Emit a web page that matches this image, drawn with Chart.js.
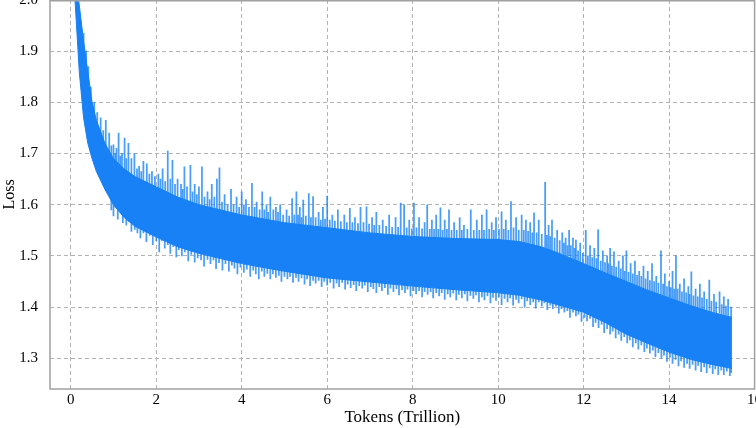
<!DOCTYPE html>
<html>
<head>
<meta charset="utf-8">
<script src="https://cdn.jsdelivr.net/npm/chart.js@4.4.1/dist/chart.umd.min.js"></script>
<style>
    html, body { margin: 0; padding: 0; background: #fff; overflow: hidden; }
    #wrap { width: 756px; height: 428px; position: relative; }
</style>
</head>
<body>
<div id="wrap"><canvas id="lossChart"></canvas></div>
<script>
// loss band: dense part of the curve (top / bottom edge)
var bandT = [0.1, 0.15, 0.2, 0.3, 0.4, 0.5, 0.6, 0.8, 1.0, 1.25, 1.5, 2, 2.5, 3, 3.5, 4, 5, 6, 7, 8, 9, 10, 10.5, 11, 11.5, 12, 12.5, 13, 13.5, 14, 14.5, 15, 15.47];
var bandUpper = [2.05, 2.02, 1.99, 1.92, 1.86, 1.80, 1.765, 1.72, 1.69, 1.67, 1.655, 1.635, 1.615, 1.60, 1.59, 1.58, 1.565, 1.555, 1.545, 1.538, 1.534, 1.532, 1.528, 1.518, 1.503, 1.485, 1.467, 1.45, 1.433, 1.418, 1.403, 1.39, 1.38];
var bandLower = [2.00, 1.93, 1.86, 1.77, 1.72, 1.69, 1.665, 1.63, 1.60, 1.575, 1.558, 1.537, 1.518, 1.505, 1.495, 1.485, 1.47, 1.457, 1.449, 1.441, 1.434, 1.428, 1.423, 1.414, 1.402, 1.39, 1.37, 1.347, 1.329, 1.312, 1.298, 1.288, 1.28];

// loss spikes above the band [tokens, from, to]
var upSpikes = [
    [0.3, 1.90, 1.935], [0.36, 1.87, 1.90], [0.41, 1.84, 1.87], [0.47, 1.80, 1.83], [0.55, 1.77, 1.80],
    [0.62, 1.75, 1.78], [0.7, 1.73, 1.77], [0.76, 1.72, 1.745], [0.82, 1.71, 1.765], [0.9, 1.70, 1.74],
    [0.95, 1.695, 1.715], [1.0, 1.68, 1.717], [1.04, 1.68, 1.70], [1.07, 1.68, 1.71], [1.12, 1.675, 1.74],
    [1.16, 1.67, 1.695], [1.2, 1.67, 1.70], [1.26, 1.665, 1.73], [1.3, 1.662, 1.69], [1.35, 1.66, 1.72],
    [1.42, 1.655, 1.69], [1.49, 1.65, 1.70], [1.55, 1.648, 1.67], [1.6, 1.645, 1.675], [1.65, 1.643, 1.665],
    [1.7, 1.64, 1.685], [1.78, 1.64, 1.68], [1.84, 1.637, 1.66], [1.9, 1.635, 1.665], [1.97, 1.633, 1.655],
    [2.05, 1.63, 1.66], [2.1, 1.628, 1.65], [2.15, 1.625, 1.67], [2.21, 1.623, 1.645], [2.27, 1.62, 1.705],
    [2.33, 1.62, 1.65], [2.38, 1.62, 1.687], [2.44, 1.615, 1.64], [2.5, 1.61, 1.65], [2.58, 1.61, 1.64],
    [2.62, 1.608, 1.63], [2.66, 1.605, 1.674], [2.72, 1.603, 1.635], [2.8, 1.60, 1.677], [2.85, 1.60, 1.625],
    [2.9, 1.60, 1.64], [2.95, 1.598, 1.62], [3.0, 1.595, 1.635], [3.07, 1.595, 1.674], [3.13, 1.593, 1.615],
    [3.2, 1.59, 1.625], [3.25, 1.59, 1.61], [3.3, 1.59, 1.64], [3.36, 1.588, 1.615], [3.42, 1.585, 1.65],
    [3.48, 1.585, 1.672], [3.54, 1.583, 1.605], [3.6, 1.58, 1.62], [3.67, 1.58, 1.60], [3.75, 1.58, 1.63],
    [3.81, 1.578, 1.60], [3.88, 1.575, 1.615], [3.94, 1.575, 1.595], [4.0, 1.575, 1.625], [4.05, 1.575, 1.60],
    [4.1, 1.575, 1.61], [4.17, 1.572, 1.595], [4.24, 1.57, 1.642], [4.3, 1.57, 1.595], [4.35, 1.57, 1.605],
    [4.42, 1.568, 1.59], [4.48, 1.57, 1.625], [4.53, 1.567, 1.59], [4.58, 1.565, 1.60], [4.62, 1.565, 1.585],
    [4.67, 1.565, 1.615], [4.74, 1.565, 1.59], [4.8, 1.565, 1.595], [4.85, 1.562, 1.585], [4.9, 1.56, 1.60],
    [4.97, 1.56, 1.58], [5.05, 1.56, 1.59], [5.11, 1.56, 1.578], [5.18, 1.56, 1.612], [5.23, 1.558, 1.58],
    [5.28, 1.56, 1.625], [5.32, 1.557, 1.58], [5.36, 1.555, 1.595], [5.4, 1.555, 1.575], [5.44, 1.555, 1.609],
    [5.5, 1.555, 1.578], [5.57, 1.555, 1.622], [5.62, 1.553, 1.575], [5.67, 1.555, 1.616], [5.73, 1.552, 1.575],
    [5.8, 1.55, 1.585], [5.85, 1.55, 1.57], [5.9, 1.55, 1.595], [5.95, 1.55, 1.572], [6.0, 1.55, 1.617],
    [6.06, 1.55, 1.57], [6.12, 1.55, 1.58], [6.18, 1.548, 1.568], [6.25, 1.548, 1.59], [6.32, 1.548, 1.567],
    [6.4, 1.548, 1.58], [6.46, 1.546, 1.565], [6.53, 1.545, 1.593], [6.59, 1.545, 1.565], [6.65, 1.545, 1.575],
    [6.72, 1.545, 1.563], [6.78, 1.545, 1.595], [6.85, 1.543, 1.565], [6.92, 1.542, 1.596], [6.98, 1.542, 1.562],
    [7.05, 1.54, 1.575], [7.1, 1.54, 1.56], [7.15, 1.54, 1.585], [7.22, 1.54, 1.56], [7.3, 1.54, 1.57],
    [7.38, 1.538, 1.558], [7.45, 1.538, 1.58], [7.52, 1.537, 1.556], [7.6, 1.536, 1.575], [7.66, 1.536, 1.556],
    [7.72, 1.535, 1.603], [7.8, 1.535, 1.60], [7.86, 1.535, 1.555], [7.92, 1.535, 1.57], [7.98, 1.534, 1.553],
    [8.03, 1.533, 1.603], [8.09, 1.533, 1.555], [8.15, 1.533, 1.575], [8.22, 1.533, 1.553], [8.28, 1.532, 1.565],
    [8.34, 1.532, 1.60], [8.4, 1.532, 1.552], [8.45, 1.532, 1.57], [8.5, 1.531, 1.552], [8.55, 1.53, 1.58],
    [8.6, 1.53, 1.552], [8.65, 1.53, 1.594], [8.7, 1.53, 1.55], [8.75, 1.53, 1.57], [8.8, 1.53, 1.552],
    [8.85, 1.53, 1.59], [8.91, 1.53, 1.55], [8.97, 1.53, 1.565], [9.03, 1.53, 1.55], [9.1, 1.53, 1.575],
    [9.15, 1.53, 1.55], [9.2, 1.53, 1.56], [9.28, 1.53, 1.552], [9.36, 1.53, 1.59], [9.43, 1.53, 1.55],
    [9.5, 1.53, 1.57], [9.56, 1.528, 1.55], [9.62, 1.528, 1.58], [9.67, 1.528, 1.55], [9.73, 1.528, 1.59],
    [9.79, 1.528, 1.552], [9.85, 1.528, 1.565], [9.9, 1.528, 1.55], [9.95, 1.528, 1.575], [10.02, 1.527, 1.552],
    [10.08, 1.527, 1.586], [10.13, 1.527, 1.552], [10.18, 1.527, 1.57], [10.24, 1.526, 1.55], [10.3, 1.526, 1.606],
    [10.36, 1.525, 1.555], [10.42, 1.525, 1.575], [10.48, 1.525, 1.55], [10.55, 1.524, 1.58], [10.6, 1.523, 1.55],
    [10.65, 1.522, 1.57], [10.7, 1.521, 1.548], [10.75, 1.52, 1.565], [10.8, 1.52, 1.545], [10.84, 1.52, 1.584],
    [10.9, 1.518, 1.545], [10.95, 1.518, 1.57], [11.02, 1.517, 1.542], [11.1, 1.515, 1.644], [11.14, 1.513, 1.54],
    [11.18, 1.512, 1.56], [11.22, 1.511, 1.538], [11.26, 1.51, 1.57], [11.32, 1.509, 1.535], [11.38, 1.508, 1.55],
    [11.44, 1.506, 1.53], [11.5, 1.505, 1.545], [11.54, 1.503, 1.525], [11.58, 1.50, 1.535], [11.62, 1.50, 1.52],
    [11.66, 1.50, 1.55], [11.7, 1.497, 1.52], [11.75, 1.495, 1.535], [11.79, 1.493, 1.515], [11.82, 1.49, 1.531],
    [11.87, 1.488, 1.51], [11.92, 1.485, 1.525], [11.98, 1.484, 1.505], [12.05, 1.482, 1.55], [12.1, 1.48, 1.50],
    [12.15, 1.478, 1.52], [12.2, 1.476, 1.497], [12.25, 1.475, 1.515], [12.3, 1.474, 1.495], [12.34, 1.472, 1.551],
    [12.4, 1.47, 1.49], [12.45, 1.468, 1.51], [12.5, 1.467, 1.487], [12.55, 1.465, 1.50], [12.58, 1.464, 1.485],
    [12.62, 1.462, 1.515], [12.66, 1.461, 1.48], [12.71, 1.46, 1.508], [12.76, 1.458, 1.478], [12.82, 1.456, 1.49],
    [12.87, 1.454, 1.475], [12.92, 1.452, 1.50], [12.96, 1.451, 1.47], [13.0, 1.45, 1.51], [13.05, 1.448, 1.468],
    [13.1, 1.446, 1.485], [13.15, 1.445, 1.465], [13.2, 1.443, 1.49], [13.25, 1.442, 1.462], [13.3, 1.44, 1.47],
    [13.35, 1.438, 1.46], [13.4, 1.437, 1.48], [13.45, 1.435, 1.455], [13.5, 1.433, 1.47], [13.55, 1.432, 1.452],
    [13.6, 1.43, 1.485], [13.65, 1.428, 1.45], [13.7, 1.427, 1.46], [13.75, 1.425, 1.447], [13.81, 1.424, 1.51],
    [13.86, 1.422, 1.445], [13.9, 1.42, 1.465], [13.95, 1.419, 1.44], [14.0, 1.418, 1.45], [14.04, 1.417, 1.438],
    [14.08, 1.415, 1.47], [14.12, 1.414, 1.435], [14.16, 1.413, 1.50], [14.2, 1.412, 1.435], [14.25, 1.41, 1.445],
    [14.3, 1.409, 1.43], [14.35, 1.408, 1.455], [14.4, 1.406, 1.428], [14.45, 1.405, 1.44], [14.48, 1.404, 1.425],
    [14.52, 1.403, 1.469], [14.57, 1.401, 1.422], [14.62, 1.40, 1.435], [14.67, 1.399, 1.42], [14.72, 1.398, 1.445],
    [14.77, 1.396, 1.418], [14.82, 1.395, 1.43], [14.88, 1.394, 1.415], [14.94, 1.392, 1.453], [14.99, 1.391, 1.412],
    [15.05, 1.39, 1.425], [15.1, 1.389, 1.41], [15.18, 1.388, 1.43], [15.23, 1.386, 1.405], [15.28, 1.385, 1.42],
    [15.33, 1.384, 1.402], [15.38, 1.382, 1.415], [15.45, 1.38, 1.40]
];

// loss dips below the band [tokens, from, to]
var downSpikes = [
    [0.95, 1.59, 1.615], [1.0, 1.578, 1.61], [1.05, 1.595, 1.605], [1.1, 1.572, 1.60], [1.17, 1.585, 1.595],
    [1.22, 1.565, 1.59], [1.3, 1.56, 1.585], [1.36, 1.568, 1.578], [1.42, 1.548, 1.575], [1.5, 1.552, 1.57],
    [1.56, 1.545, 1.562], [1.63, 1.535, 1.56], [1.7, 1.545, 1.56], [1.77, 1.528, 1.552], [1.85, 1.54, 1.55],
    [1.92, 1.522, 1.545], [2.0, 1.53, 1.545], [2.07, 1.508, 1.54], [2.13, 1.53, 1.538], [2.2, 1.515, 1.54],
    [2.27, 1.522, 1.533], [2.33, 1.505, 1.53], [2.4, 1.518, 1.53], [2.47, 1.498, 1.525], [2.53, 1.512, 1.522],
    [2.6, 1.50, 1.525], [2.67, 1.508, 1.518], [2.75, 1.49, 1.515], [2.82, 1.503, 1.513], [2.9, 1.488, 1.51],
    [2.97, 1.496, 1.508], [3.05, 1.492, 1.51], [3.12, 1.48, 1.505], [3.2, 1.493, 1.505], [3.27, 1.485, 1.502],
    [3.34, 1.492, 1.50], [3.4, 1.475, 1.50], [3.47, 1.487, 1.498], [3.55, 1.472, 1.50], [3.62, 1.485, 1.495],
    [3.7, 1.47, 1.495], [3.77, 1.482, 1.492], [3.83, 1.476, 1.49], [3.9, 1.465, 1.49], [3.97, 1.478, 1.488],
    [4.05, 1.468, 1.487], [4.12, 1.474, 1.485], [4.2, 1.46, 1.485], [4.27, 1.472, 1.482], [4.33, 1.465, 1.48],
    [4.4, 1.455, 1.482], [4.47, 1.47, 1.48], [4.53, 1.46, 1.478], [4.6, 1.466, 1.48], [4.67, 1.455, 1.476],
    [4.73, 1.465, 1.475], [4.8, 1.458, 1.478], [4.87, 1.462, 1.473], [4.93, 1.45, 1.472], [5.0, 1.46, 1.472],
    [5.07, 1.455, 1.47], [5.13, 1.46, 1.47], [5.2, 1.448, 1.47], [5.27, 1.458, 1.468], [5.33, 1.45, 1.467],
    [5.4, 1.457, 1.468], [5.47, 1.445, 1.465], [5.53, 1.455, 1.465], [5.6, 1.442, 1.465], [5.67, 1.452, 1.463],
    [5.73, 1.447, 1.462], [5.8, 1.452, 1.462], [5.87, 1.44, 1.46], [5.93, 1.45, 1.46], [6.0, 1.443, 1.46],
    [6.07, 1.448, 1.458], [6.15, 1.437, 1.458], [6.22, 1.447, 1.457], [6.28, 1.44, 1.456], [6.35, 1.448, 1.457],
    [6.42, 1.435, 1.455], [6.48, 1.445, 1.455], [6.55, 1.438, 1.455], [6.62, 1.444, 1.453], [6.68, 1.432, 1.453],
    [6.75, 1.442, 1.453], [6.82, 1.437, 1.451], [6.88, 1.443, 1.451], [6.95, 1.43, 1.45], [7.02, 1.44, 1.45],
    [7.08, 1.436, 1.449], [7.15, 1.428, 1.449], [7.22, 1.44, 1.448], [7.28, 1.432, 1.448], [7.35, 1.438, 1.447],
    [7.42, 1.425, 1.446], [7.48, 1.437, 1.446], [7.55, 1.43, 1.445], [7.62, 1.436, 1.444], [7.68, 1.424, 1.444],
    [7.75, 1.434, 1.443], [7.82, 1.428, 1.443], [7.88, 1.435, 1.442], [7.95, 1.422, 1.442], [8.02, 1.432, 1.441],
    [8.08, 1.426, 1.44], [8.15, 1.432, 1.44], [8.22, 1.42, 1.439], [8.28, 1.43, 1.439], [8.35, 1.425, 1.438],
    [8.42, 1.43, 1.438], [8.48, 1.418, 1.437], [8.55, 1.428, 1.437], [8.62, 1.422, 1.436], [8.68, 1.428, 1.436],
    [8.75, 1.415, 1.436], [8.82, 1.426, 1.435], [8.88, 1.42, 1.435], [8.95, 1.427, 1.435], [9.02, 1.414, 1.434],
    [9.08, 1.425, 1.434], [9.15, 1.418, 1.433], [9.22, 1.426, 1.433], [9.28, 1.412, 1.432], [9.35, 1.423, 1.432],
    [9.42, 1.417, 1.431], [9.48, 1.424, 1.431], [9.55, 1.41, 1.43], [9.62, 1.42, 1.43], [9.68, 1.414, 1.43],
    [9.75, 1.422, 1.43], [9.82, 1.408, 1.429], [9.88, 1.419, 1.429], [9.95, 1.413, 1.428], [10.02, 1.42, 1.428],
    [10.08, 1.405, 1.428], [10.15, 1.417, 1.428], [10.22, 1.41, 1.427], [10.28, 1.418, 1.427], [10.35, 1.404, 1.426],
    [10.42, 1.415, 1.426], [10.48, 1.408, 1.425], [10.55, 1.416, 1.424], [10.62, 1.40, 1.423], [10.68, 1.412, 1.423],
    [10.75, 1.405, 1.422], [10.82, 1.41, 1.421], [10.88, 1.398, 1.42], [10.95, 1.41, 1.42], [11.02, 1.402, 1.418],
    [11.08, 1.408, 1.417], [11.15, 1.395, 1.415], [11.22, 1.404, 1.413], [11.28, 1.397, 1.412], [11.35, 1.402, 1.41],
    [11.42, 1.388, 1.408], [11.48, 1.397, 1.406], [11.55, 1.39, 1.405], [11.62, 1.393, 1.402], [11.68, 1.38, 1.40],
    [11.75, 1.39, 1.398], [11.82, 1.383, 1.397], [11.88, 1.386, 1.395], [11.95, 1.372, 1.393], [12.02, 1.38, 1.39],
    [12.08, 1.373, 1.388], [12.15, 1.378, 1.386], [12.22, 1.362, 1.383], [12.28, 1.37, 1.38], [12.35, 1.36, 1.377],
    [12.42, 1.366, 1.374], [12.48, 1.35, 1.371], [12.55, 1.358, 1.368], [12.62, 1.347, 1.365], [12.68, 1.353, 1.362],
    [12.75, 1.34, 1.36], [12.82, 1.347, 1.356], [12.88, 1.335, 1.353], [12.95, 1.342, 1.35], [13.02, 1.33, 1.348],
    [13.08, 1.336, 1.345], [13.15, 1.322, 1.343], [13.22, 1.33, 1.34], [13.28, 1.318, 1.337], [13.35, 1.326, 1.335],
    [13.42, 1.313, 1.332], [13.48, 1.32, 1.33], [13.55, 1.31, 1.328], [13.62, 1.316, 1.325], [13.68, 1.303, 1.322],
    [13.75, 1.311, 1.32], [13.82, 1.30, 1.318], [13.88, 1.306, 1.316], [13.95, 1.294, 1.314], [14.02, 1.302, 1.312],
    [14.08, 1.29, 1.31], [14.15, 1.298, 1.308], [14.22, 1.285, 1.306], [14.28, 1.295, 1.305], [14.35, 1.282, 1.304],
    [14.42, 1.29, 1.301], [14.48, 1.28, 1.30], [14.55, 1.288, 1.298], [14.62, 1.277, 1.297], [14.68, 1.286, 1.296],
    [14.75, 1.274, 1.295], [14.82, 1.283, 1.294], [14.88, 1.272, 1.293], [14.95, 1.281, 1.292], [15.02, 1.27, 1.291],
    [15.08, 1.279, 1.29], [15.15, 1.268, 1.29], [15.22, 1.277, 1.288], [15.28, 1.268, 1.287], [15.35, 1.275, 1.285],
    [15.42, 1.266, 1.284], [15.45, 1.272, 1.283]
];

var xTicks = [0, 2, 4, 6, 8, 10, 12, 14, 16];
var yTicks = [1.3, 1.4, 1.5, 1.6, 1.7, 1.8, 1.9, 2.0];

var lineColor = '#1781f5';
var spikeColor = 'rgba(23, 129, 245, 0.78)';
var gridColor = '#b3b3b3';
var serif = "'Liberation Serif', 'DejaVu Serif', serif";

function toXY(xs, ys) {
    return xs.map(function (x, i) { return { x: x, y: ys[i] }; });
}
function toRange(list) {
    return list.map(function (s) { return { x: s[0], y: [s[1], s[2]] }; });
}

//frame round the plot area
var framePlugin = {
    id: 'frame',
    afterDraw: function (chart) {
        var a = chart.chartArea;
        var ctx = chart.ctx;
        ctx.save();
        ctx.strokeStyle = '#a0a0a0';
        ctx.lineWidth = 1.5;
        ctx.strokeRect(a.left, a.top + 0.75, a.right - a.left, a.bottom - a.top - 0.75);
        ctx.restore();
    }
};

var ctx = document.getElementById('lossChart');
var chart = new Chart(ctx, {
    type: 'line',
    data: {
        datasets: [
            {
                label: 'upper',
                data: toXY(bandT, bandUpper),
                borderColor: lineColor,
                borderWidth: 1,
                pointRadius: 0,
                tension: 0,
                fill: false
            },
            {
                label: 'lower',
                data: toXY(bandT, bandLower),
                borderColor: lineColor,
                backgroundColor: lineColor,
                borderWidth: 1,
                pointRadius: 0,
                tension: 0,
                fill: '-1'
            },
            {
                type: 'bar',
                label: 'spikes up',
                data: toRange(upSpikes),
                backgroundColor: spikeColor,
                barThickness: 1.1,
                grouped: false
            },
            {
                type: 'bar',
                label: 'spikes down',
                data: toRange(downSpikes),
                backgroundColor: spikeColor,
                barThickness: 1.1,
                grouped: false
            }
        ]
    },
    options: {
        animation: false,
        responsive: true,
        maintainAspectRatio: false,
        layout: { padding: { top: 0, left: 0, right: 1.4, bottom: 0 } },
        plugins: {
            legend: { display: false },
            tooltip: { enabled: false }
        },
        scales: {
            x: {
                type: 'linear',
                offset: false,
                min: -0.485,
                max: 16,
                afterBuildTicks: function (axis) {
                    axis.ticks = xTicks.map(function (v) { return { value: v }; });
                },
                afterFit: function (axis) {
                    axis.height = 39;
                    axis.paddingLeft = 0;
                    axis.paddingRight = 0;
                },
                grid: { color: gridColor, lineWidth: 1, drawTicks: false, offset: false },
                border: { display: false, dash: [4, 3] },
                ticks: {
                    color: '#000',
                    padding: 2,
                    maxRotation: 0,
                    font: { family: serif, size: 15 },
                    callback: function (v) { return String(v); }
                },
                title: {
                    display: true,
                    text: 'Tokens (Trillion)',
                    color: '#000',
                    padding: { top: 0, bottom: 0 },
                    font: { family: serif, size: 17 }
                }
            },
            y: {
                min: 1.24,
                max: 2.0,
                afterBuildTicks: function (axis) {
                    axis.ticks = yTicks.map(function (v) { return { value: v }; });
                },
                afterFit: function (axis) {
                    axis.width = 50;
                    axis.paddingTop = 0;
                    axis.paddingBottom = 0;
                },
                grid: { color: gridColor, lineWidth: 1, drawTicks: false },
                border: { display: false, dash: [4, 3] },
                ticks: {
                    color: '#000',
                    padding: 12,
                    font: { family: serif, size: 15 },
                    callback: function (v) { return Number(v).toFixed(1); }
                },
                title: {
                    display: true,
                    text: 'Loss',
                    color: '#000',
                    padding: { top: 0, bottom: 0 },
                    font: { family: serif, size: 16 }
                }
            }
        }
    },
    plugins: [framePlugin]
});
</script>
</body>
</html>
